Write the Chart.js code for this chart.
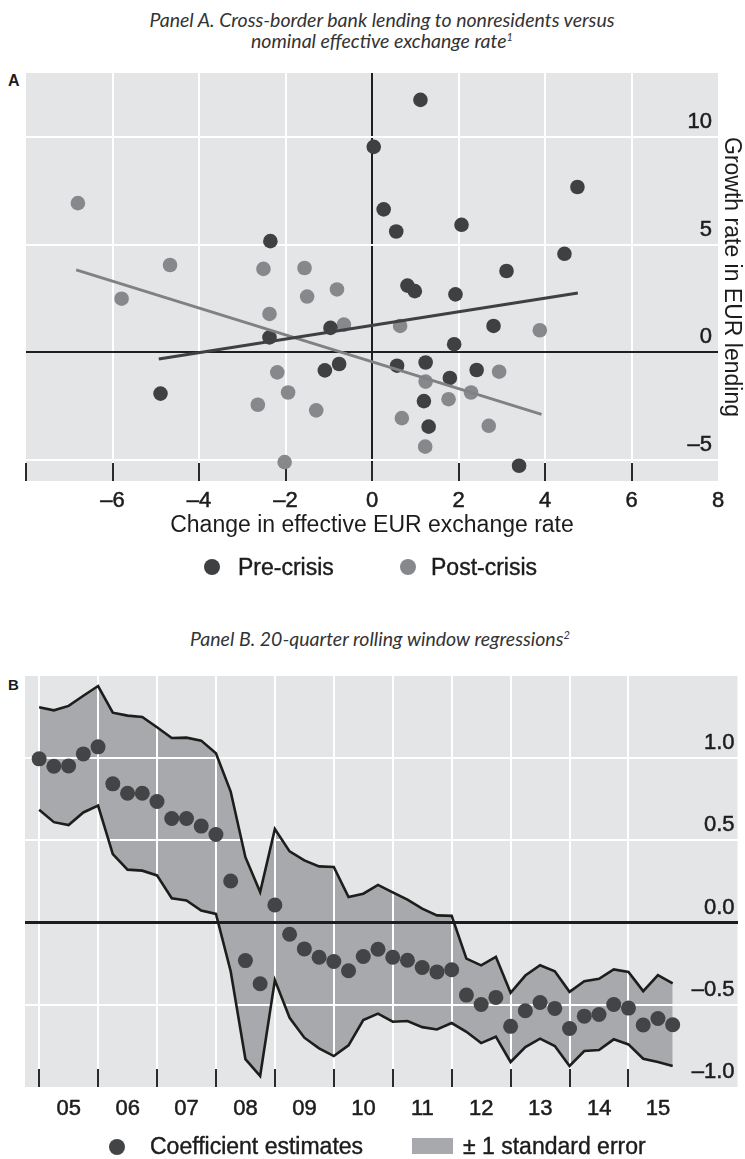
<!DOCTYPE html>
<html>
<head>
<meta charset="utf-8">
<script src="https://cdn.jsdelivr.net/npm/chart.js@4.4.1/dist/chart.umd.min.js"></script>
<style>
html,body{margin:0;padding:0;background:#fff;}
#page{position:relative;width:745px;height:1159px;overflow:hidden;font-family:"Liberation Sans",Arial,sans-serif;color:#1c1c1c;}
.ptitle{position:absolute;left:0;text-align:center;font-family:Lato,"Open Sans",sans-serif;font-style:italic;font-size:19.5px;line-height:21px;color:#333333;white-space:nowrap;}
.ptitle sup{font-size:11px;line-height:0;vertical-align:baseline;position:relative;top:-7px;}
.plabel{position:absolute;font-weight:bold;line-height:16px;font-family:"Liberation Sans",Arial,sans-serif;color:#1c1c1c;}
canvas{position:absolute;left:0;}
.legtxt{position:absolute;font-size:23px;line-height:26px;white-space:nowrap;color:#1c1c1c;-webkit-text-stroke:0.4px #1c1c1c;}
.legmark{position:absolute;}
</style>
</head>
<body>
<div id="page">
  <div class="ptitle" style="top:9px;width:764px;">Panel A. Cross-border bank lending to nonresidents versus<br>nominal effective exchange rate<sup>1</sup></div>
  <div class="plabel" style="left:8px;top:73px;font-size:16px;">A</div>
  <canvas id="chartA" width="745" height="600" style="top:0;"></canvas>
  <div id="legendA"></div>

  <div class="ptitle" style="top:628px;width:760px;">Panel B. 20-quarter rolling window regressions<sup>2</sup></div>
  <div class="plabel" style="left:8px;top:677px;font-size:15px;">B</div>
  <canvas id="chartB" width="745" height="559" style="top:600px;"></canvas>
  <div id="legendB"></div>
</div>
<script>
// ---------------- Panel A data ----------------
const preX = [0.04, -2.35, -0.96, -2.37, -0.76, -1.09, -4.89, 1.12, 4.75, 0.27, 0.56, 2.07, 4.45,
              3.11, 0.82, 0.99, 1.93, 2.81, 1.90, 0.58, 1.24, 1.80, 2.42, 1.20, 1.31, 3.40];
const preY = [9.56, 5.17, 1.13, 0.69, -0.55, -0.85, -1.93, 11.75, 7.69, 6.65, 5.62, 5.93, 4.58,
              3.78, 3.10, 2.84, 2.69, 1.22, 0.37, -0.63, -0.48, -1.20, -0.83, -2.28, -3.47, -5.29];
const postX = [-6.80, -4.67, -5.79, -2.51, -1.56, -1.50, -0.81, -2.37, -0.65, -2.19, -1.94, -2.64,
               -1.29, -2.02, 0.65, 3.88, 2.94, 1.24, 2.29, 1.77, 0.69, 2.70, 1.23];
const postY = [6.94, 4.06, 2.49, 3.88, 3.92, 2.59, 2.92, 1.78, 1.28, -0.94, -1.88, -2.45,
               -2.71, -5.12, 1.22, 1.02, -0.91, -1.37, -1.88, -2.19, -3.07, -3.43, -4.40];
const preFitX = [-4.93, 4.76];
const preFitY = [-0.32, 2.75];
const postFitX = [-6.84, 3.92];
const postFitY = [3.83, -2.90];
const xTicksA = [-8, -6, -4, -2, 0, 2, 4, 6, 8];
const yTicksA = [-5, 0, 5, 10];
const seriesA = ['Pre-crisis', 'Post-crisis'];

// ---------------- Panel B data ----------------
const quarters = ['2005Q1','2005Q2','2005Q3','2005Q4','2006Q1','2006Q2','2006Q3','2006Q4',
                  '2007Q1','2007Q2','2007Q3','2007Q4','2008Q1','2008Q2','2008Q3','2008Q4',
                  '2009Q1','2009Q2','2009Q3','2009Q4','2010Q1','2010Q2','2010Q3','2010Q4',
                  '2011Q1','2011Q2','2011Q3','2011Q4','2012Q1','2012Q2','2012Q3','2012Q4',
                  '2013Q1','2013Q2','2013Q3','2013Q4','2014Q1','2014Q2','2014Q3','2014Q4',
                  '2015Q1','2015Q2','2015Q3','2015Q4'];
const coef = [0.996, 0.951, 0.953, 1.026, 1.069, 0.844, 0.787, 0.787,
              0.737, 0.633, 0.633, 0.587, 0.536, 0.253, -0.231, -0.372,
              0.107, -0.071, -0.160, -0.211, -0.237, -0.293, -0.206, -0.162,
              -0.211, -0.229, -0.273, -0.300, -0.287, -0.441, -0.498, -0.455,
              -0.631, -0.536, -0.486, -0.522, -0.644, -0.569, -0.559, -0.498,
              -0.520, -0.623, -0.583, -0.621];
const upper = [1.310, 1.291, 1.318, 1.380, 1.439, 1.277, 1.259, 1.251,
               1.188, 1.123, 1.125, 1.107, 1.030, 0.797, 0.398, 0.186,
               0.569, 0.433, 0.378, 0.342, 0.338, 0.156, 0.176, 0.229,
               0.184, 0.140, 0.085, 0.044, 0.041, -0.219, -0.260, -0.208,
               -0.427, -0.322, -0.259, -0.296, -0.421, -0.356, -0.342, -0.285,
               -0.300, -0.417, -0.320, -0.370];
const lower = [0.686, 0.611, 0.593, 0.670, 0.712, 0.417, 0.322, 0.316,
               0.287, 0.148, 0.135, 0.073, 0.053, -0.296, -0.830, -0.933,
               -0.350, -0.579, -0.700, -0.765, -0.812, -0.747, -0.593, -0.554,
               -0.603, -0.599, -0.636, -0.650, -0.611, -0.664, -0.733, -0.694,
               -0.848, -0.757, -0.706, -0.751, -0.872, -0.781, -0.775, -0.710,
               -0.741, -0.828, -0.848, -0.872];
const yearTicksB = [2005, 2006, 2007, 2008, 2009, 2010, 2011, 2012, 2013, 2014, 2015];
const yTicksB = [-1.0, -0.5, 0.0, 0.5, 1.0];
const seriesB = ['Coefficient estimates', '\u00B1 1 standard error'];

// ---------------- helpers ----------------
const FONT = '"Liberation Sans", Arial, sans-serif';
const INK = '#1c1c1c';
const toPoints = (xs, ys) => xs.map((x, i) => ({x: x, y: ys[i]}));
const quarterPos = q => parseInt(q.slice(0, 4), 10) + (parseInt(q.slice(5), 10) - 1) / 4;
const dash = v => (v < 0 ? '\u2013' : '') + Math.abs(v);
const dash1 = v => (v < 0 ? '\u2013' : '') + Math.abs(v).toFixed(1);

const plotBg = {
  id: 'plotBg',
  beforeDraw(chart, args, opts) {
    const a = chart.chartArea, ctx = chart.ctx;
    ctx.save();
    ctx.fillStyle = opts.color;
    ctx.fillRect(a.left, a.top, a.right - a.left, a.bottom - a.top);
    ctx.restore();
  }
};
const gridOverFill = {
  id: 'gridOverFill',
  beforeDatasetsDraw(chart, args, opts) {
    if (!opts.enabled) return;
    chart.scales.x.drawGrid(chart.chartArea);
    chart.scales.y.drawGrid(chart.chartArea);
  }
};
const innerTicks = {
  id: 'innerTicks',
  beforeDatasetsDraw(chart, args, opts) {
    const sc = chart.scales.x, a = chart.chartArea, ctx = chart.ctx;
    ctx.save();
    ctx.strokeStyle = opts.color;
    ctx.lineWidth = opts.width;
    sc.ticks.forEach(t => {
      if (opts.skip && opts.skip.indexOf(t.value) !== -1) return;
      const px = Math.round(sc.getPixelForValue(t.value));
      ctx.beginPath();
      ctx.moveTo(px, a.bottom);
      ctx.lineTo(px, a.bottom - opts.length);
      ctx.stroke();
    });
    ctx.restore();
  }
};

const tickFont = {family: FONT, size: 22};
const tickStroke = {textStrokeWidth: 0.5, textStrokeColor: INK};

// ---------------- Panel A chart ----------------
const colPre = '#3f4042', colPost = '#87888b';
const chartA = new Chart(document.getElementById('chartA'), {
  type: 'scatter',
  data: {
    datasets: [
      {label: 'Pre-crisis trend', type: 'line', data: toPoints(preFitX, preFitY), borderColor: '#3f4042',
       borderWidth: 3, pointRadius: 0, fill: false, order: 1},
      {label: 'Post-crisis trend', type: 'line', data: toPoints(postFitX, postFitY), borderColor: '#808184',
       borderWidth: 3, pointRadius: 0, fill: false, order: 2},
      {label: seriesA[0], data: toPoints(preX, preY), backgroundColor: colPre, borderWidth: 0,
       pointRadius: 7.3, order: 3},
      {label: seriesA[1], data: toPoints(postX, postY), backgroundColor: colPost, borderWidth: 0,
       pointRadius: 7.3, order: 4}
    ]
  },
  options: {
    responsive: false, animation: false, devicePixelRatio: 1,
    layout: {padding: {top: 73, left: 26, right: 0, bottom: 61}},
    plugins: {
      legend: {display: false}, tooltip: {enabled: false},
      plotBg: {color: '#e4e5e7'},
      innerTicks: {color: '#2b2b2b', width: 2, length: 18, skip: [8]}
    },
    scales: {
      x: {
        type: 'linear', min: -8, max: 8,
        afterBuildTicks: s => { s.ticks = xTicksA.map(v => ({value: v})); },
        afterFit: s => { s.height = 58; },
        border: {display: false},
        grid: {drawTicks: false, lineWidth: 2,
               color: c => c.tick.value === 0 ? '#1f1f1f' : (c.tick.value === -8 || c.tick.value === 8 ? 'rgba(0,0,0,0)' : '#ffffff')},
        ticks: Object.assign({padding: 7, autoSkip: false, maxRotation: 0, color: INK, font: tickFont,
                callback: v => v === -8 ? '' : dash(v)}, tickStroke),
        title: {display: true, text: 'Change in effective EUR exchange rate', color: INK,
                font: {family: FONT, size: 23}, padding: 0}
      },
      y: {
        type: 'linear', position: 'right', min: -6, max: 13,
        afterBuildTicks: s => { s.ticks = yTicksA.map(v => ({value: v})); },
        afterFit: s => { s.width = 27; },
        border: {display: false},
        grid: {drawTicks: false, lineWidth: 2, color: c => c.tick.value === 0 ? '#1f1f1f' : '#ffffff'},
        ticks: Object.assign({mirror: true, padding: -6, labelOffset: -15, color: INK, font: tickFont,
                callback: v => dash(v)}, tickStroke),
        title: {display: true, text: 'Growth rate in EUR lending', color: INK,
                font: {family: FONT, size: 23}, padding: 0}
      }
    }
  },
  plugins: [plotBg, innerTicks]
});

// ---------------- Panel B chart ----------------
const xB = quarters.map(quarterPos);
const colCoef = '#434446', colBand = '#a8a9ac', colEdge = '#1d1d1b';
const chartB = new Chart(document.getElementById('chartB'), {
  type: 'line',
  data: {
    datasets: [
      {label: seriesB[0], type: 'scatter', data: toPoints(xB, coef), backgroundColor: colCoef,
       borderWidth: 0, pointRadius: 7.5, showLine: false, order: 1},
      {label: seriesB[1], data: toPoints(xB, upper), borderColor: colEdge, borderWidth: 2.6,
       pointRadius: 0, fill: '+1', backgroundColor: colBand, tension: 0, order: 2},
      {label: 'lower bound', data: toPoints(xB, lower), borderColor: colEdge, borderWidth: 2.6,
       pointRadius: 0, fill: false, tension: 0, order: 3}
    ]
  },
  options: {
    responsive: false, animation: false, devicePixelRatio: 1,
    layout: {padding: {top: 76, left: 25, right: 0, bottom: 32}},
    plugins: {
      legend: {display: false}, tooltip: {enabled: false},
      filler: {drawTime: 'beforeDatasetsDraw'},
      plotBg: {color: '#e4e5e7'},
      gridOverFill: {enabled: true},
      innerTicks: {color: '#2b2b2b', width: 2, length: 18}
    },
    scales: {
      x: {
        type: 'linear', min: 2004.76, max: 2016.85,
        afterBuildTicks: s => { s.ticks = yearTicksB.map(v => ({value: v})); },
        afterFit: s => { s.height = 40; },
        border: {display: false},
        grid: {drawTicks: false, lineWidth: 2, color: '#ffffff'},
        ticks: Object.assign({padding: 9, labelOffset: 29.6, autoSkip: false, maxRotation: 0, color: INK,
                font: tickFont, callback: v => String(v).slice(2)}, tickStroke)
      },
      y: {
        type: 'linear', position: 'right', min: -1.0, max: 1.5,
        afterBuildTicks: s => { s.ticks = yTicksB.map(v => ({value: v})); },
        afterFit: s => { s.width = 4; },
        border: {display: false},
        grid: {drawTicks: false,
               lineWidth: c => c.tick.value === 0 ? 3 : 2,
               color: c => c.tick.value === 0 ? colEdge : (c.tick.value === -1 ? 'rgba(0,0,0,0)' : '#ffffff')},
        ticks: Object.assign({mirror: true, padding: -3, labelOffset: -15, color: INK, font: tickFont,
                callback: v => dash1(v)}, tickStroke)
      }
    }
  },
  plugins: [plotBg, gridOverFill, innerTicks]
});

// ---------------- HTML legends built from the datasets ----------------
function addMark(host, style) {
  const m = document.createElement('div');
  m.className = 'legmark';
  Object.assign(m.style, style);
  host.appendChild(m);
}
function addText(host, text, left, centerY) {
  const t = document.createElement('div');
  t.className = 'legtxt';
  t.textContent = text;
  t.style.left = left + 'px';
  t.style.top = (centerY - 13) + 'px';
  host.appendChild(t);
}
(function () {
  const host = document.getElementById('legendA');
  const ds = chartA.data.datasets.filter(d => seriesA.indexOf(d.label) !== -1);
  const spots = [{dot: 212, text: 238}, {dot: 408, text: 431}];
  ds.forEach((d, i) => {
    addMark(host, {left: (spots[i].dot - 8) + 'px', top: (567 - 8) + 'px', width: '16px', height: '16px',
                   borderRadius: '50%', background: d.backgroundColor});
    addText(host, d.label, spots[i].text, 567);
  });
})();
(function () {
  const host = document.getElementById('legendB');
  const pts = chartB.data.datasets[0], band = chartB.data.datasets[1];
  addMark(host, {left: (117 - 8) + 'px', top: (1147 - 8) + 'px', width: '16px', height: '16px',
                 borderRadius: '50%', background: pts.backgroundColor});
  addText(host, pts.label, 150, 1146);
  addMark(host, {left: '412px', top: '1138px', width: '41px', height: '16px', background: band.backgroundColor});
  addText(host, band.label, 463, 1146);
})();
</script>
</body>
</html>
